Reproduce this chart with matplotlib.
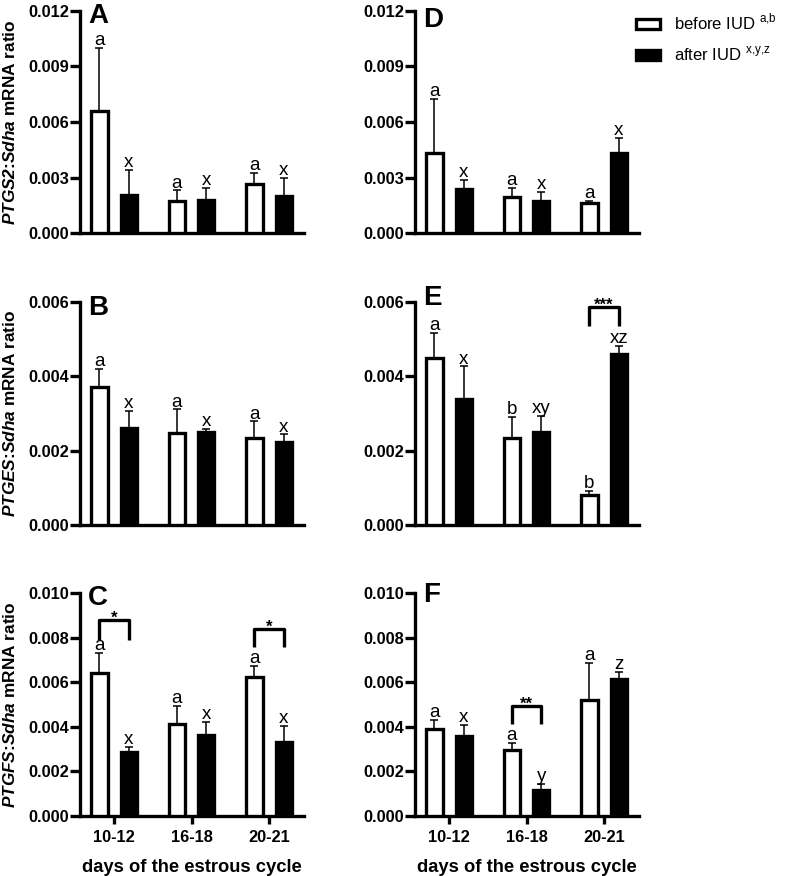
import numpy as np
import matplotlib
matplotlib.use('Agg')
import matplotlib.pyplot as plt
from matplotlib.patches import Patch

plt.rcParams['font.family'] = ['Liberation Sans', 'DejaVu Sans']
plt.rcParams['mathtext.fontset'] = 'custom'
plt.rcParams['mathtext.rm'] = 'Liberation Sans'
plt.rcParams['mathtext.bfit'] = 'Liberation Sans:italic:bold'

## data (mean and upper SEM)
days = ['10-12', '16-18', '20-21']

A_before = [0.00657, 0.00171, 0.00264]
A_before_sem = [0.00345, 0.00059, 0.00060]
A_after = [0.00207, 0.00180, 0.00198]
A_after_sem = [0.00135, 0.00063, 0.00102]

B_before = [0.00371, 0.00248, 0.00235]
B_before_sem = [0.00050, 0.00063, 0.00044]
B_after = [0.00261, 0.00250, 0.00223]
B_after_sem = [0.00046, 0.00009, 0.00021]

C_before = [0.00643, 0.00412, 0.00622]
C_before_sem = [0.00087, 0.00081, 0.00051]
C_after = [0.00288, 0.00361, 0.00333]
C_after_sem = [0.00022, 0.00062, 0.00072]

D_before = [0.00435, 0.00192, 0.00162]
D_before_sem = [0.00288, 0.00051, 0.00013]
D_after = [0.00237, 0.00175, 0.00432]
D_after_sem = [0.00051, 0.00048, 0.00084]

E_before = [0.00449, 0.00235, 0.00081]
E_before_sem = [0.00068, 0.00056, 0.00011]
E_after = [0.00338, 0.00251, 0.00460]
E_after_sem = [0.00089, 0.00043, 0.00022]

F_before = [0.00392, 0.00294, 0.00522]
F_before_sem = [0.00040, 0.00033, 0.00166]
F_after = [0.00359, 0.00115, 0.00613]
F_after_sem = [0.00048, 0.00030, 0.00034]

## significance letters
A_let_b = ['a', 'a', 'a']; A_let_a = ['x', 'x', 'x']
B_let_b = ['a', 'a', 'a']; B_let_a = ['x', 'x', 'x']
C_let_b = ['a', 'a', 'a']; C_let_a = ['x', 'x', 'x']
D_let_b = ['a', 'a', 'a']; D_let_a = ['x', 'x', 'x']
E_let_b = ['a', 'b', 'b']; E_let_a = ['x', 'xy', 'xz']
F_let_b = ['a', 'a', 'a']; F_let_a = ['x', 'y', 'z']

## brackets: (group, bar height, leg end, stars)
C_brk = [(0, 0.0088, 0.0079, '*'), (2, 0.0084, 0.00757, '*')]
E_brk = [(2, 0.00587, 0.00535, '***')]
F_brk = [(1, 0.00492, 0.00411, '**')]

ylabels = [r'$\mathbfit{PTGS2}$:$\mathbfit{Sdha}$ mRNA ratio',
           r'$\mathbfit{PTGES}$:$\mathbfit{Sdha}$ mRNA ratio',
           r'$\mathbfit{PTGFS}$:$\mathbfit{Sdha}$ mRNA ratio']

W, H = 787, 876
fig = plt.figure(figsize=(W / 100, H / 100), dpi=100)

lw = 2.4
bw = 0.21
off = 0.19


def panel(rect, before, bsem, after, asem, let_b, let_a, ymax, step,
          name, name_y, ylabel=None, brk=(), xlab=False):
    ax = fig.add_axes(rect)
    x = np.arange(len(days))
    ax.bar(x - off, before, bw, color='white', edgecolor='black', linewidth=lw, zorder=3)
    ax.bar(x + off, after, bw, color='black', edgecolor='black', linewidth=lw, zorder=3)
    ax.errorbar(x - off, before, yerr=[np.zeros(3), bsem], fmt='none', ecolor='black',
                elinewidth=1.1, capsize=3, capthick=1.1, zorder=2)
    ax.errorbar(x + off, after, yerr=[np.zeros(3), asem], fmt='none', ecolor='black',
                elinewidth=1.1, capsize=3, capthick=1.1, zorder=2)
    for i in range(3):
        ax.annotate(let_b[i], (x[i] - off, before[i] + bsem[i]), xytext=(0, 2),
                    textcoords='offset points', ha='center', va='baseline', fontsize=13.5)
        ax.annotate(let_a[i], (x[i] + off, after[i] + asem[i]), xytext=(0, 2),
                    textcoords='offset points', ha='center', va='baseline', fontsize=13.5)
    for g, top, leg, stars in brk:
        ax.plot([g - off, g - off, g + off, g + off], [leg, top, top, leg],
                color='black', lw=lw, solid_capstyle='butt', zorder=4)
        ax.annotate(stars, (g, top), xytext=(0, -2), textcoords='offset points',
                    ha='center', va='baseline', fontsize=12, fontweight='bold')
    ax.set_xlim(-0.44, 2.45)
    ax.set_ylim(0, ymax)
    ax.set_yticks(np.arange(0, ymax + step / 2, step))
    ax.set_yticklabels(['%.3f' % v for v in np.arange(0, ymax + step / 2, step)],
                       fontsize=11.8, fontweight='bold')
    for s in ['top', 'right']:
        ax.spines[s].set_visible(False)
    for s in ['left', 'bottom']:
        ax.spines[s].set_linewidth(lw)
    ax.tick_params(axis='y', length=7, width=lw, pad=1)
    if xlab:
        ax.set_xticks(x)
        ax.set_xticklabels(days, fontsize=11.8, fontweight='bold')
        ax.tick_params(axis='x', length=6, width=lw, pad=4)
        ax.set_xlabel('days of the estrous cycle', fontsize=13.2, fontweight='bold', labelpad=10)
    else:
        ax.set_xticks([])
    if ylabel:
        ax.set_ylabel(ylabel, fontsize=12.4, fontweight='bold')
        ax.yaxis.set_label_coords(-0.275, 0.5)
    ax.text(0.035, name_y, name, transform=ax.transAxes, fontsize=20,
            fontweight='bold', va='baseline', ha='left')
    return ax


## axes rectangles in pixel
lx, rx = 80, 415
cw = 224
rows = [(11, 233), (302, 525), (593, 816)]


def rect(x0, r):
    t, b = r
    return [x0 / W, 1 - b / H, cw / W, (b - t) / H]


panel(rect(lx, rows[0]), A_before, A_before_sem, A_after, A_after_sem, A_let_b, A_let_a,
      0.012, 0.003, 'A', 0.946, ylabels[0])
panel(rect(lx, rows[1]), B_before, B_before_sem, B_after, B_after_sem, B_let_b, B_let_a,
      0.006, 0.002, 'B', 0.942, ylabels[1])
panel(rect(lx, rows[2]), C_before, C_before_sem, C_after, C_after_sem, C_let_b, C_let_a,
      0.010, 0.002, 'C', 0.946, ylabels[2], brk=C_brk, xlab=True)
panel(rect(rx, rows[0]), D_before, D_before_sem, D_after, D_after_sem, D_let_b, D_let_a,
      0.012, 0.003, 'D', 0.93)
panel(rect(rx, rows[1]), E_before, E_before_sem, E_after, E_after_sem, E_let_b, E_let_a,
      0.006, 0.002, 'E', 0.987, brk=E_brk)
panel(rect(rx, rows[2]), F_before, F_before_sem, F_after, F_after_sem, F_let_b, F_let_a,
      0.010, 0.002, 'F', 0.96, brk=F_brk, xlab=True)

handles = [Patch(facecolor='white', edgecolor='black', linewidth=lw),
           Patch(facecolor='black', edgecolor='black', linewidth=lw)]
fig.legend(handles, [r'before IUD $^{\mathregular{a{,}b}}$', r'after IUD $^{\mathregular{x{,}y{,}z}}$'],
           loc='upper left', bbox_to_anchor=(636 / W, 1 - 12 / H), frameon=False,
           fontsize=12, handlelength=1.45, handleheight=0.55, handletextpad=0.8,
           labelspacing=0.75, borderpad=0, borderaxespad=0)

fig.savefig('out.png', dpi=100)
